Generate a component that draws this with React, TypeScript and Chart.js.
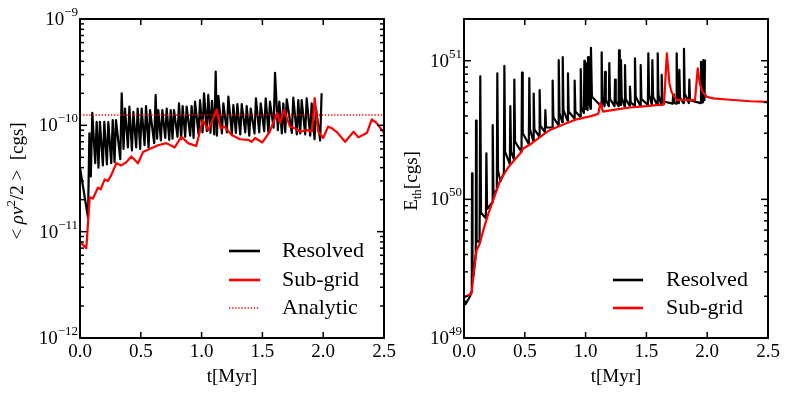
import React, { useEffect, useRef } from "react";
import { Chart, registerables } from "chart.js";

Chart.register(...registerables);

const SERIF = '"Liberation Serif", "Times New Roman", serif';

// ---- axes ----
const xTickValues = [0, 0.5, 1.0, 1.5, 2.0, 2.5];
const xRange = [0, 2.5];
const leftDecades = [-12, -11, -10, -9];
const rightDecades = [49, 50, 51];
const leftYRange = [1e-12, 1e-9];
const rightYRange = [1e49, 2e51];
const xTitle = "t[Myr]";

// ---- legend labels ----
const leftLabels = ["Resolved", "Sub-grid", "Analytic"];
const rightLabels = ["Resolved", "Sub-grid"];

// ---- data: [t (Myr), value (cgs)] ----
const analyticLevel = 1.25e-10;

const leftResolved: [number, number][] = [
  [0.0, 4.0e-11], [0.066, 1.35e-11], [0.077, 8.4e-11], [0.089, 3.3e-11], [0.101, 1.31e-10],
  [0.125, 4.4e-11], [0.137, 1.08e-10], [0.152, 4.0e-11], [0.164, 1.08e-10], [0.188, 4.2e-11],
  [0.2, 1.08e-10], [0.221, 4.3e-11], [0.233, 1.07e-10], [0.257, 4.4e-11], [0.269, 1.12e-10],
  [0.284, 4.5e-11], [0.296, 1.12e-10], [0.331, 4.8e-11], [0.343, 2.0e-10], [0.358, 6.0e-11],
  [0.37, 1.44e-10], [0.394, 6.2e-11], [0.406, 1.5e-10], [0.427, 5.8e-11], [0.439, 1.34e-10],
  [0.462, 6.2e-11], [0.474, 1.44e-10], [0.495, 6.0e-11], [0.507, 1.44e-10], [0.531, 6.5e-11],
  [0.543, 1.52e-10], [0.564, 6.2e-11], [0.576, 1.39e-10], [0.61, 6.8e-11], [0.622, 1.93e-10],
  [0.634, 7.5e-11], [0.644, 1.39e-10], [0.665, 7.2e-11], [0.677, 1.39e-10], [0.701, 7.6e-11],
  [0.713, 1.44e-10], [0.734, 7.3e-11], [0.746, 1.39e-10], [0.761, 7.5e-11], [0.773, 1.39e-10],
  [0.802, 7.8e-11], [0.814, 1.61e-10], [0.832, 7.4e-11], [0.844, 1.52e-10], [0.865, 7.8e-11],
  [0.877, 1.5e-10], [0.906, 8.0e-11], [0.918, 1.52e-10], [0.934, 7.6e-11], [0.946, 1.67e-10],
  [0.975, 8.2e-11], [0.987, 1.73e-10], [1.008, 8.6e-11], [1.02, 2.0e-10], [1.043, 8.8e-11],
  [1.055, 1.93e-10], [1.073, 8.5e-11], [1.085, 1.7e-10], [1.104, 8.2e-11], [1.116, 3.2e-10],
  [1.126, 8.0e-11], [1.138, 1.89e-10], [1.167, 8.4e-11], [1.179, 1.61e-10], [1.208, 8.6e-11],
  [1.22, 1.86e-10], [1.249, 8.3e-11], [1.261, 1.55e-10], [1.282, 8.5e-11], [1.294, 1.58e-10],
  [1.318, 8.2e-11], [1.33, 1.58e-10], [1.359, 8.6e-11], [1.371, 1.52e-10], [1.392, 8.0e-11],
  [1.404, 1.44e-10], [1.435, 8.4e-11], [1.447, 1.79e-10], [1.474, 8.6e-11], [1.486, 1.61e-10],
  [1.515, 8.8e-11], [1.527, 1.79e-10], [1.55, 8.5e-11], [1.562, 1.67e-10], [1.592, 9.5e-11],
  [1.604, 3.12e-10], [1.627, 9.0e-11], [1.639, 1.67e-10], [1.66, 8.4e-11], [1.672, 1.61e-10],
  [1.688, 8.6e-11], [1.7, 1.76e-10], [1.742, 8.5e-11], [1.754, 1.82e-10], [1.783, 8.2e-11],
  [1.795, 1.73e-10], [1.811, 8.4e-11], [1.823, 1.73e-10], [1.852, 8.2e-11], [1.864, 1.79e-10],
  [1.893, 8.0e-11], [1.905, 1.61e-10], [1.929, 7.4e-11], [1.941, 1.44e-10], [1.975, 7.2e-11],
  [1.987, 2.0e-10],
];

const leftSubgrid: [number, number][] = [
  [0.0, 8e-12], [0.052, 7e-12], [0.08, 2.1e-11], [0.107, 2.05e-11], [0.148, 2.6e-11],
  [0.17, 2.5e-11], [0.203, 3.1e-11], [0.23, 3.0e-11], [0.257, 3.4e-11], [0.299, 4.4e-11],
  [0.34, 4.2e-11], [0.381, 4.5e-11], [0.422, 5.1e-11], [0.477, 4.4e-11], [0.518, 5.6e-11],
  [0.586, 6.1e-11], [0.641, 6.5e-11], [0.71, 6.8e-11], [0.779, 6.2e-11], [0.833, 7.8e-11],
  [0.888, 6.8e-11], [0.956, 6.4e-11], [1.01, 1.12e-10], [1.055, 9.0e-11], [1.124, 1.41e-10],
  [1.157, 9.4e-11], [1.19, 9.7e-11], [1.247, 8.1e-11], [1.316, 7.4e-11], [1.384, 7.3e-11],
  [1.412, 7.0e-11], [1.44, 7.6e-11], [1.5, 6.9e-11], [1.56, 8.7e-11], [1.62, 1.3e-10],
  [1.645, 1.05e-10], [1.678, 1.39e-10], [1.727, 9.7e-11], [1.768, 9.4e-11], [1.81, 8.7e-11],
  [1.864, 9.0e-11], [1.91, 8.8e-11], [1.93, 1.8e-10], [1.96, 8.7e-11], [2.0, 7.6e-11],
  [2.04, 9.7e-11], [2.07, 9.4e-11], [2.11, 8.7e-11], [2.18, 7.0e-11], [2.25, 8.7e-11],
  [2.29, 7.7e-11], [2.36, 8.5e-11], [2.4, 1.14e-10], [2.44, 1.05e-10], [2.5, 8.5e-11],
];

const leftAnalytic: [number, number][] = [
  [0.0, analyticLevel], [2.5, analyticLevel],
];

const rightResolved: [number, number][] = [
  [0.0, 1.9e49], [0.012, 1.75e49], [0.05, 2.0e49], [0.064, 2.2e49], [0.066, 1.54e50],
  [0.07, 2.6e49], [0.08, 2.9e49], [0.097, 4.1e49], [0.099, 3.7e50], [0.104, 5.0e49],
  [0.128, 4.9e49], [0.134, 7.7e50], [0.14, 8.0e49], [0.18, 7.3e49], [0.184, 2.15e50],
  [0.19, 8.5e49], [0.232, 9.5e49], [0.236, 3.44e50], [0.242, 1.1e50], [0.27, 1.17e50],
  [0.274, 8.1e50], [0.28, 1.6e50], [0.3, 1.35e50], [0.328, 1.55e50], [0.332, 9.2e50],
  [0.338, 2.2e50], [0.377, 1.8e50], [0.381, 4.7e50], [0.387, 2.2e50], [0.41, 1.95e50],
  [0.414, 7.3e50], [0.42, 2.6e50], [0.473, 2.2e50], [0.477, 8.2e50], [0.483, 3.0e50],
  [0.533, 2.5e50], [0.537, 7.5e50], [0.543, 3.2e50], [0.569, 2.65e50], [0.573, 5.8e50],
  [0.579, 3.2e50], [0.618, 2.85e50], [0.622, 6.15e50], [0.628, 3.4e50], [0.665, 3.05e50],
  [0.669, 4.4e50], [0.675, 3.3e50], [0.725, 3.3e50], [0.729, 7.2e50], [0.735, 3.9e50],
  [0.775, 3.45e50], [0.779, 1.01e51], [0.785, 4.2e50], [0.808, 3.6e50], [0.812, 1.06e51],
  [0.818, 4.4e50], [0.851, 3.7e50], [0.855, 8.1e50], [0.861, 4.3e50], [0.906, 3.85e50],
  [0.91, 7.2e50], [0.916, 4.3e50], [0.956, 3.95e50], [0.96, 8.7e50], [0.966, 4.6e50],
  [0.986, 4.2e50], [0.99, 1.0e51], [0.994, 5.5e50], [0.999, 4.5e50], [1.003, 9.6e50],
  [1.008, 5.1e50], [1.016, 4.4e50], [1.02, 1.06e51], [1.026, 5.3e50], [1.04, 4.5e50],
  [1.044, 1.24e51], [1.052, 5.5e50], [1.128, 4.7e50], [1.132, 1.15e51], [1.138, 5.5e50],
  [1.156, 4.7e50], [1.16, 8.3e50], [1.166, 5.2e50], [1.191, 4.7e50], [1.195, 9.6e50],
  [1.201, 5.3e50], [1.238, 4.7e50], [1.242, 7.3e50], [1.248, 5.1e50], [1.271, 4.7e50],
  [1.275, 1.19e51], [1.281, 5.7e50], [1.287, 4.8e50], [1.291, 1.01e51], [1.297, 5.4e50],
  [1.32, 4.7e50], [1.324, 9.3e50], [1.33, 5.3e50], [1.361, 4.75e50], [1.365, 6.5e50],
  [1.371, 5.0e50], [1.402, 4.75e50], [1.406, 1.04e51], [1.412, 5.5e50], [1.449, 4.75e50],
  [1.453, 9.3e50], [1.459, 5.3e50], [1.512, 4.8e50], [1.516, 1.13e51], [1.522, 5.7e50],
  [1.545, 4.8e50], [1.549, 1.01e51], [1.555, 5.5e50], [1.589, 4.8e50], [1.593, 1.13e51],
  [1.599, 5.7e50], [1.622, 4.8e50], [1.626, 7.9e50], [1.632, 5.1e50], [1.716, 4.9e50],
  [1.72, 5.7e50], [1.726, 5.0e50], [1.745, 4.9e50], [1.749, 1.13e51], [1.755, 5.7e50],
  [1.767, 4.95e50], [1.771, 8.6e50], [1.777, 5.4e50], [1.805, 4.95e50], [1.809, 1.22e51],
  [1.815, 5.8e50], [1.849, 4.95e50], [1.853, 7.3e50], [1.859, 5.2e50], [1.945, 4.95e50],
  [1.949, 9.8e50], [1.955, 5.5e50], [1.964, 5.0e50], [1.968, 1.01e51], [1.974, 5.5e50],
  [1.978, 5.2e50], [1.982, 1.02e51],
];

const rightSubgrid: [number, number][] = [
  [0.0, 1.95e49], [0.011, 1.98e49], [0.063, 2.1e49], [0.082, 3.1e49], [0.104, 4.3e49],
  [0.13, 4.8e49], [0.159, 6.0e49], [0.2, 7.9e49], [0.241, 9.9e49], [0.299, 1.38e50],
  [0.367, 1.72e50], [0.463, 2.15e50], [0.488, 2.33e50], [0.559, 2.54e50], [0.669, 3.0e50],
  [0.707, 3.17e50], [0.806, 3.44e50], [0.927, 3.78e50], [1.053, 4.0e50], [1.105, 4.15e50],
  [1.122, 4.97e50], [1.142, 4.3e50], [1.256, 4.46e50], [1.365, 4.6e50], [1.5, 4.7e50],
  [1.645, 4.85e50], [1.668, 1.13e51], [1.69, 6.8e50], [1.708, 5.9e50], [1.749, 5.21e50],
  [1.9, 5.2e50], [1.922, 8.8e50], [1.94, 6.8e50], [1.96, 6.0e50], [1.996, 5.5e50],
  [2.05, 5.35e50], [2.16, 5.25e50], [2.352, 5.1e50], [2.5, 5.05e50],
];

const toPoints = (s: [number, number][]) => s.map(([x, y]) => ({ x, y }));

type Piece = { text: string; size: number; dy?: number; italic?: boolean };

function drawPieces(ctx: CanvasRenderingContext2D, pieces: Piece[], cx: number, cy: number, rotate: boolean) {
  ctx.save();
  ctx.translate(cx, cy);
  if (rotate) ctx.rotate(-Math.PI / 2);
  const fontOf = (p: Piece) => `${p.italic ? "italic " : ""}${p.size}px ${SERIF}`;
  let total = 0;
  const widths = pieces.map((p) => {
    ctx.font = fontOf(p);
    const w = ctx.measureText(p.text).width;
    total += w;
    return w;
  });
  let x = -total / 2;
  ctx.textAlign = "left";
  ctx.textBaseline = "alphabetic";
  pieces.forEach((p, i) => {
    ctx.font = fontOf(p);
    ctx.fillText(p.text, x, p.dy || 0);
    x += widths[i];
  });
  ctx.restore();
}

type LegendItem = { label: string; color: string; dash: number[]; width: number };

type DecorCfg = {
  decades: number[];
  labelRight: number;
  title: Piece[];
  titleX: number;
  titleY: number;
  legend: LegendItem[];
  legendX0: number;
  legendX1: number;
  legendTextX: number;
  legendY: number[];
};

function makeDecor(cfg: DecorCfg) {
  return {
    id: "decor",
    afterDraw(chart: any) {
      const { ctx, chartArea: a } = chart;
      const xs = chart.scales.x;
      const ys = chart.scales.y;
      ctx.save();
      ctx.strokeStyle = "#000";
      ctx.fillStyle = "#000";
      const seg = (x1: number, y1: number, x2: number, y2: number) => {
        ctx.beginPath();
        ctx.moveTo(x1, y1);
        ctx.lineTo(x2, y2);
        ctx.stroke();
      };
      // inward ticks
      ctx.lineWidth = 1.5;
      for (const v of xTickValues) {
        const px = xs.getPixelForValue(v);
        seg(px, a.bottom, px, a.bottom - 6);
        seg(px, a.top, px, a.top + 6);
      }
      for (const e of cfg.decades) {
        for (let m = 1; m < 10; m++) {
          const v = m * Math.pow(10, e);
          if (v < ys.min * 0.9999 || v > ys.max * 1.0001) continue;
          const py = ys.getPixelForValue(v);
          const len = m === 1 ? 7 : 4;
          seg(a.left, py, a.left + len, py);
          seg(a.right, py, a.right - len, py);
        }
      }
      // frame
      ctx.lineWidth = 2;
      ctx.strokeRect(a.left, a.top, a.right - a.left, a.bottom - a.top);
      // y tick labels 10^n
      ctx.textAlign = "left";
      ctx.textBaseline = "alphabetic";
      for (const e of cfg.decades) {
        const py = ys.getPixelForValue(Math.pow(10, e));
        const expText = e < 0 ? "\u2212" + String(-e) : String(e);
        ctx.font = `13px ${SERIF}`;
        const we = ctx.measureText(expText).width;
        ctx.font = `19px ${SERIF}`;
        const wb = ctx.measureText("10").width;
        ctx.fillText("10", cfg.labelRight - we - wb, py + 6);
        ctx.font = `13px ${SERIF}`;
        ctx.fillText(expText, cfg.labelRight - we, py - 3);
      }
      // y title
      drawPieces(ctx, cfg.title, cfg.titleX, cfg.titleY, true);
      // legend
      cfg.legend.forEach((it, i) => {
        const y = cfg.legendY[i];
        ctx.save();
        ctx.strokeStyle = it.color;
        ctx.lineWidth = it.width;
        ctx.setLineDash(it.dash);
        seg(cfg.legendX0, y, cfg.legendX1, y);
        ctx.restore();
        ctx.font = `22px ${SERIF}`;
        ctx.textBaseline = "middle";
        ctx.textAlign = "left";
        ctx.fillStyle = "#000";
        ctx.fillText(it.label, cfg.legendTextX, y);
      });
      ctx.restore();
    },
  };
}

function makeOptions(yRange: number[], yWidth: number, padRight: number) {
  return {
    animation: false as const,
    responsive: false,
    devicePixelRatio: 1,
    layout: { padding: { top: 19, right: padRight, left: 0, bottom: 0 } },
    plugins: { legend: { display: false }, tooltip: { enabled: false } },
    elements: { point: { radius: 0 }, line: { tension: 0 } },
    scales: {
      x: {
        type: "linear" as const,
        min: xRange[0],
        max: xRange[1],
        afterFit: (s: any) => {
          s.height = 57;
        },
        ticks: {
          stepSize: 0.5,
          callback: (v: any) => Number(v).toFixed(1),
          font: { family: SERIF, size: 19 },
          color: "#000",
          padding: 3,
          maxRotation: 0,
          autoSkip: false,
        },
        grid: { display: false, drawTicks: false },
        border: { display: false },
        title: {
          display: true,
          text: xTitle,
          font: { family: SERIF, size: 19 },
          color: "#000",
          padding: { top: 0, bottom: 7 },
        },
      },
      y: {
        type: "logarithmic" as const,
        min: yRange[0],
        max: yRange[1],
        afterFit: (s: any) => {
          s.width = yWidth;
        },
        ticks: { display: false },
        grid: { display: false, drawTicks: false },
        border: { display: false },
      },
    },
  };
}

export default function App() {
  const leftRef = useRef<HTMLCanvasElement>(null);
  const rightRef = useRef<HTMLCanvasElement>(null);

  useEffect(() => {
    const lineBase = { pointRadius: 0, borderJoinStyle: "round" as const, fill: false };
    const c1 = new Chart(leftRef.current!, {
      type: "line",
      data: {
        datasets: [
          { ...lineBase, label: leftLabels[0], data: toPoints(leftResolved), borderColor: "#000", borderWidth: 2.2, order: 3 },
          { ...lineBase, label: leftLabels[1], data: toPoints(leftSubgrid), borderColor: "#ff0000", borderWidth: 2.2, order: 2 },
          { ...lineBase, label: leftLabels[2], data: toPoints(leftAnalytic), borderColor: "#ff0000", borderWidth: 1.5, borderDash: [1.3, 1.8], order: 1 },
        ],
      },
      options: makeOptions(leftYRange, 80, 16) as any,
      plugins: [
        makeDecor({
          decades: leftDecades,
          labelRight: 78,
          title: [
            { text: "< ", size: 19 },
            { text: "\u03C1v", size: 19, italic: true },
            { text: "2", size: 13, dy: -8 },
            { text: "/2 >  [cgs]", size: 19 },
          ],
          titleX: 23,
          titleY: 181,
          legend: [
            { label: leftLabels[0], color: "#000", dash: [], width: 2.6 },
            { label: leftLabels[1], color: "#ff0000", dash: [], width: 2.6 },
            { label: leftLabels[2], color: "#ff0000", dash: [1.3, 1.8], width: 1.5 },
          ],
          legendX0: 229,
          legendX1: 260,
          legendTextX: 282,
          legendY: [251, 280, 308],
        }),
      ],
    });
    const c2 = new Chart(rightRef.current!, {
      type: "line",
      data: {
        datasets: [
          { ...lineBase, label: rightLabels[0], data: toPoints(rightResolved), borderColor: "#000", borderWidth: 2.2, order: 2 },
          { ...lineBase, label: rightLabels[1], data: toPoints(rightSubgrid), borderColor: "#ff0000", borderWidth: 2.2, order: 1 },
        ],
      },
      options: makeOptions(rightYRange, 64, 21) as any,
      plugins: [
        makeDecor({
          decades: rightDecades,
          labelRight: 62,
          title: [
            { text: "E", size: 19 },
            { text: "th", size: 13, dy: 4 },
            { text: "[cgs]", size: 19 },
          ],
          titleX: 17,
          titleY: 181,
          legend: [
            { label: rightLabels[0], color: "#000", dash: [], width: 2.6 },
            { label: rightLabels[1], color: "#ff0000", dash: [], width: 2.6 },
          ],
          legendX0: 213,
          legendX1: 243,
          legendTextX: 266,
          legendY: [280, 308],
        }),
      ],
    });
    return () => {
      c1.destroy();
      c2.destroy();
    };
  }, []);

  return (
    <div style={{ position: "absolute", left: 0, top: 0, width: 789, height: 395, background: "#fff" }}>
      <canvas ref={leftRef} width={400} height={395} style={{ position: "absolute", left: 0, top: 0 }} />
      <canvas ref={rightRef} width={389} height={395} style={{ position: "absolute", left: 400, top: 0 }} />
    </div>
  );
}
